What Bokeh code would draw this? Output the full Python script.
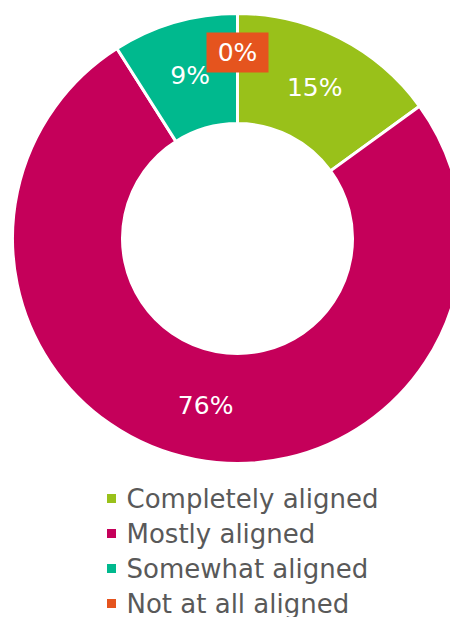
import numpy as np
from bokeh.plotting import figure
from bokeh.models import Range1d, ColumnDataSource
from bokeh.core.properties import value
from bokeh.embed import file_html
from bokeh.resources import INLINE

categories = ["Completely aligned", "Mostly aligned", "Somewhat aligned", "Not at all aligned"]
shares = [15, 76, 9, 0]
colors = ["#99C11A", "#C5005A", "#00B98E", "#E5541E"]

W, H = 450, 617
cx, cy = 237, H - 238
r_out, r_in = 225, 115
r_lab = 170

p = figure(width=W, height=H, output_backend="svg", toolbar_location=None,
           x_range=Range1d(0, W), y_range=Range1d(0, H), min_border=0)
p.axis.visible = False
p.grid.visible = False
p.outline_line_color = None
p.background_fill_color = "white"
p.border_fill_color = "white"

vals = np.array(shares, dtype=float)
frac = vals / vals.sum()
cum = np.concatenate([[0], np.cumsum(frac)])
# clockwise from 12 o'clock
theta1 = cum[:-1] * 2 * np.pi
theta2 = cum[1:] * 2 * np.pi
start = np.pi / 2 - theta2
end = np.pi / 2 - theta1
mid = (theta1 + theta2) / 2
nz = vals > 0

src = ColumnDataSource(dict(start=start[nz], end=end[nz],
                            color=[c for c, k in zip(colors, nz) if k]))
p.annular_wedge(x=cx, y=cy, inner_radius=r_in, outer_radius=r_out,
                start_angle="start", end_angle="end", direction="anticlock",
                fill_color="color", line_color="white", line_width=3, source=src)

# labels
rl = np.where(vals == 0, 186, r_lab)
lx = cx + rl * np.sin(mid)
ly = cy + rl * np.cos(mid)
texts = [f"{int(v)}%" for v in shares]
zero = ~nz
if zero.any():
    p.rect(x=lx[zero], y=ly[zero], width=62, height=40,
           fill_color=[c for c, z in zip(colors, zero) if z], line_color=None)
p.text(x=lx, y=ly, text=texts, text_color="white", text_font=value("DejaVu Sans"),
       text_font_size="25px", text_align="center", text_baseline="middle")

# legend
ly0 = [H - 498 - 35 * i for i in range(len(categories))]
p.scatter(x=[111] * len(categories), y=ly0, marker="square", size=9,
          fill_color=colors, line_color=None)
p.text(x=[126] * len(categories), y=ly0, text=categories, text_color="#595959",
       text_font=value("DejaVu Sans"), text_font_size="26px",
       text_align="left", text_baseline="middle")

open("out.html", "w").write(file_html(p, INLINE))
